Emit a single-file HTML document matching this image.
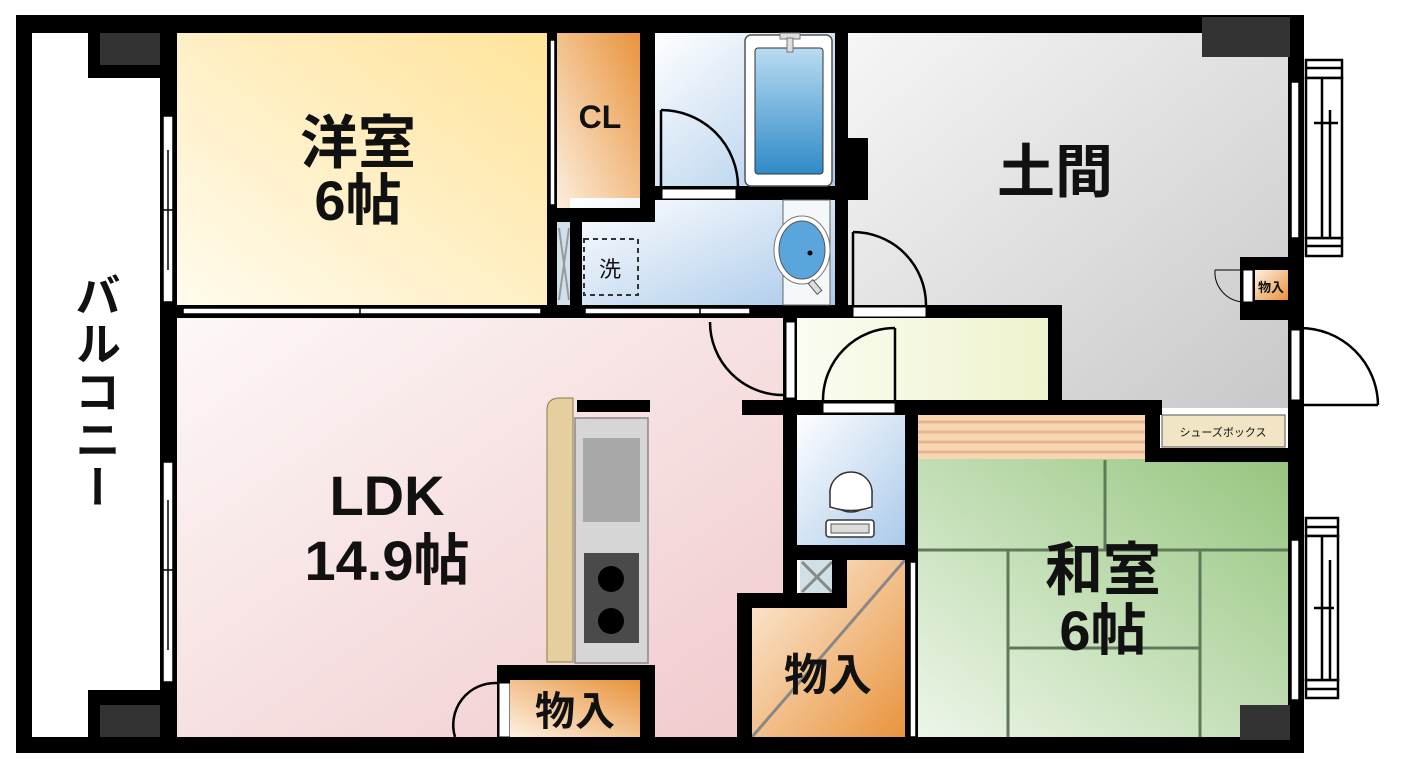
<!DOCTYPE html>
<html><head><meta charset="utf-8"><style>
html,body{margin:0;padding:0;background:#fff;width:1404px;height:768px;overflow:hidden}
svg{position:absolute;left:0;top:0}
.t{font-family:"Liberation Sans","Noto Sans CJK JP",sans-serif;font-weight:bold;fill:#111;text-anchor:middle}
#bal{position:absolute;left:70px;top:272px;width:56px;height:260px;writing-mode:vertical-rl;font-family:"Noto Sans CJK JP",sans-serif;font-weight:bold;font-size:46px;line-height:56px;color:#111;letter-spacing:2px}
</style></head><body>
<svg width="1404" height="768" viewBox="0 0 1404 768" xmlns="http://www.w3.org/2000/svg">
<defs>
<linearGradient id="gY" x1="0" y1="1" x2="1" y2="0"><stop offset="0" stop-color="#fffbee"/><stop offset="1" stop-color="#ffe39a"/></linearGradient>
<linearGradient id="gO" x1="0" y1="1" x2="1" y2="0"><stop offset="0" stop-color="#fdf1e2"/><stop offset="1" stop-color="#e8923a"/></linearGradient>
<linearGradient id="gO2" x1="0" y1="0" x2="1" y2="1"><stop offset="0" stop-color="#fdf1e2"/><stop offset="1" stop-color="#e8923a"/></linearGradient>
<linearGradient id="gB" x1="0" y1="0" x2="1" y2="1"><stop offset="0" stop-color="#ffffff"/><stop offset="1" stop-color="#a9c9ea"/></linearGradient>
<linearGradient id="gTub" x1="0" y1="0" x2="0" y2="1"><stop offset="0" stop-color="#b9dcf2"/><stop offset="1" stop-color="#2f8ac8"/></linearGradient>
<linearGradient id="gG" x1="0" y1="0" x2="1" y2="1"><stop offset="0" stop-color="#f6f6f6"/><stop offset="1" stop-color="#c8c8c8"/></linearGradient>
<linearGradient id="gP" x1="0" y1="0" x2="1" y2="1"><stop offset="0" stop-color="#fdf8f7"/><stop offset="1" stop-color="#f0c9cc"/></linearGradient>
<linearGradient id="gH" x1="0" y1="0" x2="1" y2="0"><stop offset="0" stop-color="#fbfcf2"/><stop offset="1" stop-color="#eef3cc"/></linearGradient>
<linearGradient id="gW" x1="0" y1="1" x2="1" y2="0"><stop offset="0" stop-color="#eef6ea"/><stop offset="1" stop-color="#95c57e"/></linearGradient>
</defs>

<!-- floors -->
<rect x="32" y="33" width="130" height="705" fill="#fff"/>
<rect x="175" y="33" width="375" height="275" fill="url(#gY)"/>
<rect x="555" y="33" width="88" height="180" fill="url(#gO)"/>
<rect x="652" y="33" width="186" height="158" fill="url(#gB)"/>
<rect x="570" y="198" width="268" height="110" fill="url(#gB)"/>
<rect x="557" y="222" width="14" height="85" fill="#cfe0ea"/>
<path d="M845 33 H1293 V408 H1055 V308 H845 Z" fill="url(#gG)"/>
<rect x="175" y="315" width="612" height="425" fill="url(#gP)"/>
<rect x="795" y="318" width="258" height="85" fill="url(#gH)"/>
<rect x="795" y="412" width="112" height="136" fill="url(#gB)"/>
<rect x="915" y="458" width="378" height="282" fill="url(#gW)"/>
<path d="M748 600 H845 V556 H908 V740 H748 Z" fill="url(#gO2)"/>
<rect x="800" y="558" width="34" height="38" fill="#cfe0e6"/>
<!-- tatami strip -->
<rect x="918" y="415" width="228" height="44" fill="#f9d6b2"/>
<g stroke="#e6b58f" stroke-width="3"><line x1="918" y1="422" x2="1146" y2="422"/><line x1="918" y1="432" x2="1146" y2="432"/><line x1="918" y1="442" x2="1146" y2="442"/><line x1="918" y1="452" x2="1146" y2="452"/></g>
<!-- tatami lines -->
<g stroke="#5f7a58" stroke-width="3"><line x1="1105" y1="460" x2="1105" y2="550"/><line x1="918" y1="550" x2="1290" y2="550"/><line x1="1008" y1="550" x2="1008" y2="737"/><line x1="1200" y1="550" x2="1200" y2="737"/><line x1="1008" y1="648" x2="1200" y2="648"/></g>
<!-- big storage diagonal -->
<line x1="752" y1="737" x2="905" y2="560" stroke="#888" stroke-width="3"/>
<!-- shafts X -->
<g stroke="#888" stroke-width="3"><line x1="802" y1="562" x2="832" y2="592"/><line x1="832" y1="562" x2="802" y2="592"/></g>
<g stroke="#999" stroke-width="2"><line x1="559" y1="228" x2="569" y2="300"/><line x1="569" y1="228" x2="559" y2="300"/><line x1="849" y1="148" x2="859" y2="190"/><line x1="859" y1="148" x2="849" y2="190"/></g>

<!-- walls -->
<g fill="#000">
<rect x="16" y="15" width="1288" height="18"/>
<rect x="16" y="737" width="1288" height="16"/>
<rect x="16" y="15" width="16" height="738"/>
<rect x="160" y="15" width="17" height="738"/>
<rect x="88" y="15" width="89" height="63"/>
<rect x="88" y="690" width="89" height="63"/>
<rect x="1288" y="15" width="16" height="738"/>
<rect x="160" y="305" width="640" height="13"/>
<rect x="547" y="33" width="10" height="285"/>
<rect x="547" y="208" width="108" height="14"/>
<rect x="547" y="208" width="10" height="110"/>
<rect x="570" y="218" width="12" height="90"/>
<rect x="640" y="33" width="15" height="189"/>
<rect x="640" y="186" width="208" height="14"/>
<rect x="835" y="33" width="13" height="285"/>
<rect x="848" y="138" width="20" height="62"/>
<rect x="800" y="305" width="262" height="13"/>
<rect x="1048" y="305" width="14" height="110"/>
<rect x="783" y="318" width="14" height="290"/>
<rect x="742" y="400" width="420" height="15"/>
<rect x="905" y="400" width="13" height="340"/>
<rect x="783" y="545" width="135" height="15"/>
<rect x="832" y="560" width="15" height="48"/>
<rect x="737" y="593" width="110" height="15"/>
<rect x="737" y="593" width="15" height="147"/>
<rect x="1145" y="400" width="15" height="62"/>
<rect x="1145" y="448" width="159" height="14"/>
<rect x="1240" y="257" width="50" height="63"/>
<rect x="497" y="665" width="158" height="80"/>
<rect x="577" y="400" width="73" height="12"/>
</g>
<!-- window gaps -->
<g fill="#fff" stroke="#000" stroke-width="1.5">
<rect x="163" y="116" width="10" height="186"/>
<rect x="163" y="462" width="10" height="220"/>
<rect x="1291" y="82" width="8" height="156"/>
<rect x="1291" y="540" width="8" height="160"/>
<rect x="550" y="40" width="5" height="165"/>
<rect x="910" y="562" width="6" height="175"/>
<rect x="183" y="308" width="358" height="6"/>
<rect x="585" y="308" width="165" height="6"/>
</g>
<g stroke="#000" stroke-width="1.5"><line x1="168" y1="150" x2="168" y2="270"/><line x1="168" y1="500" x2="168" y2="650"/><line x1="163" y1="210" x2="173" y2="210"/><line x1="163" y1="570" x2="173" y2="570"/><line x1="360" y1="308" x2="360" y2="314"/><line x1="700" y1="308" x2="700" y2="314"/></g>
<!-- balcony blocks -->
<rect x="100" y="33" width="60" height="32" fill="#333"/>
<rect x="100" y="705" width="60" height="32" fill="#333"/>
<rect x="1202" y="17" width="88" height="40" fill="#333"/>
<rect x="1240" y="705" width="50" height="35" fill="#333"/>
<!-- right window frames -->
<g fill="#fff" stroke="#000" stroke-width="2.5">
<rect x="1306" y="60" width="36" height="18"/><rect x="1306" y="238" width="36" height="18"/>
<rect x="1306" y="78" width="36" height="160"/>
<rect x="1306" y="518" width="32" height="18"/><rect x="1306" y="680" width="32" height="18"/>
<rect x="1306" y="536" width="32" height="144"/>
</g>
<g stroke="#000" stroke-width="2.5"><line x1="1322" y1="78" x2="1322" y2="238"/><line x1="1330" y1="110" x2="1330" y2="238"/><line x1="1322" y1="536" x2="1322" y2="680"/><line x1="1330" y1="560" x2="1330" y2="680"/><line x1="1314" y1="123" x2="1338" y2="123"/><line x1="1314" y1="608" x2="1334" y2="608"/><line x1="1306" y1="68" x2="1342" y2="68"/><line x1="1306" y1="246" x2="1342" y2="246"/><line x1="1306" y1="527" x2="1338" y2="527"/><line x1="1306" y1="689" x2="1338" y2="689"/></g>

<!-- doors -->
<g fill="none" stroke="#000" stroke-width="2.5">
<path d="M661 110 A77 77 0 0 1 738 187"/><line x1="661" y1="110" x2="661" y2="187"/>
<path d="M853 232 A73 73 0 0 1 926 305"/><line x1="853" y1="232" x2="853" y2="305"/>
<path d="M710 322 A73 73 0 0 0 783 395"/>
<path d="M823 400 A72 72 0 0 1 895 328"/><line x1="895" y1="328" x2="895" y2="400"/>
<path d="M1300 328 A78 78 0 0 1 1378 405"/><line x1="1300" y1="405" x2="1378" y2="405"/>
<path d="M455 737 A42 42 0 0 1 497 683"/>
</g>
<path d="M1215 270 A30 30 0 0 0 1243 302 M1215 270 L1243 270" fill="none" stroke="#000" stroke-width="1"/>
<g fill="#fff" stroke="#000" stroke-width="1">
<rect x="662" y="189" width="74" height="10"/>
<rect x="853" y="307" width="73" height="10"/>
<rect x="786" y="322" width="9" height="76"/>
<rect x="823" y="403" width="72" height="10"/>
<rect x="1291" y="330" width="9" height="70"/>
<rect x="499" y="683" width="11" height="54"/>
<rect x="1243" y="270" width="10" height="32"/>
</g>
<!-- small storages -->
<rect x="1255" y="270" width="33" height="30" fill="url(#gO2)"/>
<rect x="510" y="680" width="130" height="57" fill="url(#gO)"/>
<!-- shoe box -->
<rect x="1162" y="415" width="123" height="32" fill="#f1e5c5" stroke="#555" stroke-width="1"/>

<!-- bath -->
<rect x="745" y="35" width="87" height="151" rx="6" fill="#fff" stroke="#555" stroke-width="1.5"/>
<rect x="755" y="48" width="68" height="126" rx="3" fill="url(#gTub)" stroke="#333" stroke-width="1"/>
<rect x="780" y="33" width="20" height="6" fill="#ddd" stroke="#777"/>
<rect x="787" y="38" width="6" height="14" fill="#ddd" stroke="#777"/>
<!-- basin -->
<rect x="783" y="200" width="47" height="105" fill="#f4f8fb" stroke="#666" stroke-width="1"/>
<ellipse cx="802" cy="250" rx="28" ry="34" fill="#fff" stroke="#777"/>
<ellipse cx="802" cy="250" rx="23" ry="29" fill="#5aa6dc" stroke="#555"/>
<circle cx="810" cy="253" r="2.5" fill="#000"/>
<rect x="812" y="280" width="6" height="14" fill="#ddd" stroke="#555" transform="rotate(-40 815 287)"/>
<!-- washer -->
<rect x="584" y="239" width="54" height="56" fill="none" stroke="#333" stroke-width="2" stroke-dasharray="5 4"/>
<!-- toilet -->
<ellipse cx="851" cy="492" rx="21" ry="20" fill="#fff" stroke="#333" stroke-width="1.5"/>
<rect x="830" y="490" width="42" height="20" fill="#fff" stroke="none"/>
<path d="M830 490 L830 507 Q851 514 872 507 L872 490" fill="#fff" stroke="#333" stroke-width="1.5"/>
<rect x="826" y="520" width="48" height="17" rx="3" fill="#fff" stroke="#333" stroke-width="1.5"/>
<rect x="831" y="524" width="38" height="9" fill="#ddd" stroke="#555"/>
<!-- kitchen -->
<path d="M547 662 L547 410 Q547 398 560 398 L573 398 L573 662 Z" fill="#e5cf9e" stroke="#8a7a4a" stroke-width="1"/>
<rect x="575" y="418" width="73" height="245" fill="#d6d6d6" stroke="#888" stroke-width="1.5"/>
<rect x="583" y="438" width="57" height="84" fill="#a8a8a8"/>
<rect x="584" y="553" width="55" height="90" fill="#4a4a4a"/>
<circle cx="611" cy="579" r="13" fill="#000"/>
<circle cx="611" cy="621" r="13" fill="#000"/>

<!-- labels -->
<text class="t" x="358" y="163" font-size="58">洋室</text>
<text class="t" x="358" y="220" font-size="56">6帖</text>
<text class="t" x="600" y="128" font-size="32">CL</text>
<text class="t" x="1055" y="192" font-size="58">土間</text>
<text class="t" x="610" y="277" font-size="22" style="font-weight:normal">洗</text>
<text class="t" x="1271" y="292" font-size="13">物入</text>
<text class="t" x="1223" y="436" font-size="11" style="font-weight:normal">シューズボックス</text>
<text class="t" x="387" y="515" font-size="56">LDK</text>
<text class="t" x="387" y="580" font-size="56">14.9帖</text>
<text class="t" x="575" y="725" font-size="40">物入</text>
<text class="t" x="828" y="690" font-size="44">物入</text>
<text class="t" x="1103" y="590" font-size="58">和室</text>
<text class="t" x="1103" y="650" font-size="56">6帖</text>
</svg>
<div id="bal">バルコニー</div>
</body></html>
